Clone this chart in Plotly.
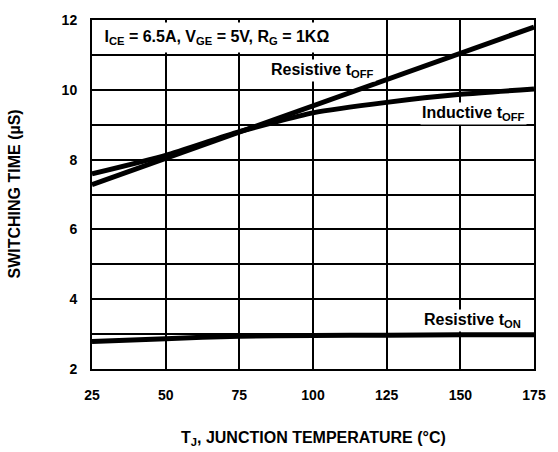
import plotly.graph_objects as go

temps = [25, 50, 75, 100, 125, 150, 175]
res_toff = [7.28, 8.03, 8.79, 9.56, 10.3, 11.05, 11.8]
ind_toff = [7.59, 8.12, 8.8, 9.34, 9.64, 9.87, 10.02]
res_ton = [2.79, 2.87, 2.94, 2.96, 2.97, 2.98, 2.98]

x_ticks = [25, 50, 75, 100, 125, 150, 175]
y_ticks = [2, 4, 6, 8, 10, 12]

FONT = "Liberation Sans, Arial, sans-serif"

fig = go.Figure()
fig.add_trace(go.Scatter(x=temps, y=res_toff, mode="lines",
                         line=dict(color="black", width=5),
                         showlegend=False, hoverinfo="skip"))
fig.add_trace(go.Scatter(x=temps, y=ind_toff, mode="lines",
                         line=dict(color="black", width=5, shape="spline", smoothing=0.6),
                         showlegend=False, hoverinfo="skip"))
fig.add_trace(go.Scatter(x=temps, y=res_ton, mode="lines",
                         line=dict(color="black", width=5, shape="spline", smoothing=0.6),
                         showlegend=False, hoverinfo="skip"))

fig.update_layout(
    width=558, height=452,
    margin=dict(l=92, r=19, t=13, b=83),
    paper_bgcolor="white", plot_bgcolor="white",
    font=dict(family=FONT, color="black"),
    showlegend=False,
)
fig.update_xaxes(
    range=[25, 175], tickvals=x_ticks, ticktext=[str(v) for v in x_ticks],
    showgrid=True, gridcolor="black", gridwidth=2,
    showline=True, linecolor="black", linewidth=2, mirror=True,
    ticks="", zeroline=False, ticklabelstandoff=12,
    tickfont=dict(family=FONT, size=14, color="black", weight="bold"),
)
fig.update_yaxes(
    range=[2, 12], tickvals=y_ticks, ticktext=[str(v) for v in y_ticks],
    showgrid=True, gridcolor="black", gridwidth=2,
    showline=True, linecolor="black", linewidth=2, mirror=True,
    ticks="", zeroline=False, ticklabelstandoff=10,
    tickfont=dict(family=FONT, size=14, color="black", weight="bold"),
    minor=dict(dtick=1, tick0=2, showgrid=True, gridcolor="black", gridwidth=2),
)

title_font = dict(family=FONT, size=16, color="black", weight="bold")
fig.add_annotation(x=0.5, y=0, xref="paper", yref="paper", xanchor="center", yanchor="middle",
                   yshift=-69, text="T<sub>J</sub>, JUNCTION TEMPERATURE (°C)",
                   showarrow=False, font=title_font)
fig.add_annotation(x=0, y=0.5, xref="paper", yref="paper", xanchor="center", yanchor="middle",
                   xshift=-78, textangle=-90, text="SWITCHING TIME (µS)",
                   showarrow=False, font=title_font)

ann_font = dict(family=FONT, size=16, color="black", weight="bold")
fig.add_annotation(x=0.0, y=11.5, xref="paper", yref="y", xanchor="left", yanchor="middle",
                   xshift=2,
                   text="&nbsp;I<sub>CE</sub> = 6.5A, V<sub>GE</sub> = 5V, R<sub>G</sub> = 1KΩ",
                   showarrow=False, bgcolor="white", font=ann_font, borderpad=5)
fig.add_annotation(x=103.2, y=10.54, xanchor="center", yanchor="middle",
                   text="Resistive t<sub>OFF</sub>", showarrow=False, bgcolor="white", font=ann_font)
fig.add_annotation(x=154.5, y=9.33, xanchor="center", yanchor="middle",
                   text="Inductive t<sub>OFF</sub>", showarrow=False, bgcolor="white", font=ann_font)
fig.add_annotation(x=154, y=3.4, xanchor="center", yanchor="middle",
                   text="Resistive t<sub>ON</sub>", showarrow=False, bgcolor="white", font=ann_font)

fig.write_html("out.html")
